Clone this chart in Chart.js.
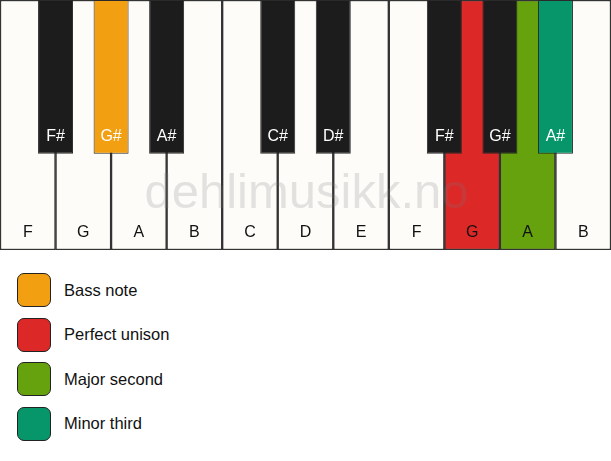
<!DOCTYPE html>
<html>
<head>
<meta charset="utf-8">
<script src="https://cdn.jsdelivr.net/npm/chart.js@4.4.1/dist/chart.umd.min.js"></script>
<style>
  body { margin: 0; background: #fff; font-family: "Liberation Sans", Arial, sans-serif; }
  #wrap { position: relative; width: 611px; height: 250px; }
  #legend { list-style: none; margin: 0; padding: 0; position: absolute; left: 17px; top: 273px; }
  #legend li { display: flex; align-items: center; height: 34px; margin-bottom: 10.5px; font-size: 16.5px; color: #111; }
  #legend .sw { width: 34px; height: 34px; box-sizing: border-box; border: 1.5px solid #222; border-radius: 7px; margin-right: 13px; }
</style>
</head>
<body>
<div id="wrap"><canvas id="keys" width="611" height="250"></canvas></div>
<ul id="legend"></ul>
<script>
// teclas blancas y negras (posicion = indice de la frontera entre blancas)
const whiteNotes = ["F", "G", "A", "B", "C", "D", "E", "F", "G", "A", "B"];
const blackNotes = ["F#", "G#", "A#", "C#", "D#", "F#", "G#", "A#"];
const blackPos = [1, 2, 3, 5, 6, 8, 9, 10];

// rol de cada tecla dentro de la leyenda (-1 = sin marcar)
const whiteRoles = [-1, -1, -1, -1, -1, -1, -1, -1, 1, 2, -1];
const blackRoles = [-1, 0, -1, -1, -1, -1, -1, 3];

const legendLabels = ["Bass note", "Perfect unison", "Major second", "Minor third"];
const legendColors = ["#F39F12", "#DD2828", "#66A20E", "#06966A"];

const whiteFill = "#FDFCF9";
const blackFill = "#1C1C1C";
const blackDepth = 0.385; // donde termina la tecla negra (fraccion desde abajo)

const keyLabels = {
  id: "keyLabels",
  afterDatasetsDraw(chart) {
    const ctx = chart.ctx;
    const area = chart.chartArea;
    ctx.save();
    // marca de agua
    ctx.font = "49px 'Liberation Sans', Arial, sans-serif";
    ctx.fillStyle = "rgba(120,120,120,0.2)";
    ctx.textAlign = "center";
    ctx.textBaseline = "alphabetic";
    ctx.fillText("dehlimusikk.no", (area.left + area.right) / 2 + 1, area.top + 208);

    ctx.font = "16px 'Liberation Sans', Arial, sans-serif";
    chart.data.datasets.forEach((ds, di) => {
      const meta = chart.getDatasetMeta(di);
      meta.data.forEach((bar, i) => {
        const props = bar.getProps(["x", "base"], true);
        ctx.fillStyle = ds.labelColors[i];
        ctx.fillText(ds.notes[i], props.x, props.base - 13);
      });
    });
    ctx.restore();
  }
};

const ctx = document.getElementById("keys").getContext("2d");
new Chart(ctx, {
  type: "bar",
  data: {
    datasets: [
      {
        label: "black",
        xAxisID: "x2",
        notes: blackNotes,
        data: blackPos.map((p) => ({ x: p, y: [blackDepth, 1] })),
        backgroundColor: blackRoles.map((r) => (r < 0 ? blackFill : legendColors[r])),
        labelColors: blackRoles.map(() => "#fff"),
        borderColor: "#2a2a2a",
        borderWidth: 1,
        borderSkipped: false,
        barPercentage: 0.63,
        categoryPercentage: 1,
        order: 0
      },
      {
        label: "white",
        xAxisID: "x",
        notes: whiteNotes,
        data: whiteNotes.map((n, i) => ({ x: i + 0.5, y: [0, 1] })),
        backgroundColor: whiteRoles.map((r) => (r < 0 ? whiteFill : legendColors[r])),
        labelColors: whiteRoles.map(() => "#111"),
        borderColor: "#333",
        borderWidth: 1.5,
        borderSkipped: false,
        barPercentage: 1,
        categoryPercentage: 1,
        order: 1
      }
    ]
  },
  options: {
    responsive: false,
    animation: false,
    devicePixelRatio: 1,
    grouped: false,
    layout: { padding: 0 },
    plugins: { legend: { display: false }, tooltip: { enabled: false } },
    scales: {
      x: { type: "linear", min: 0, max: whiteNotes.length, offset: false, display: false },
      x2: { type: "linear", axis: "x", min: 0, max: whiteNotes.length, offset: false, display: false },
      y: { min: 0, max: 1, display: false }
    }
  },
  plugins: [keyLabels]
});

// leyenda en HTML
const legend = document.getElementById("legend");
legendLabels.forEach((txt, i) => {
  const li = document.createElement("li");
  const sw = document.createElement("span");
  sw.className = "sw";
  sw.style.background = legendColors[i];
  li.appendChild(sw);
  li.appendChild(document.createTextNode(txt));
  legend.appendChild(li);
});
</script>
</body>
</html>
